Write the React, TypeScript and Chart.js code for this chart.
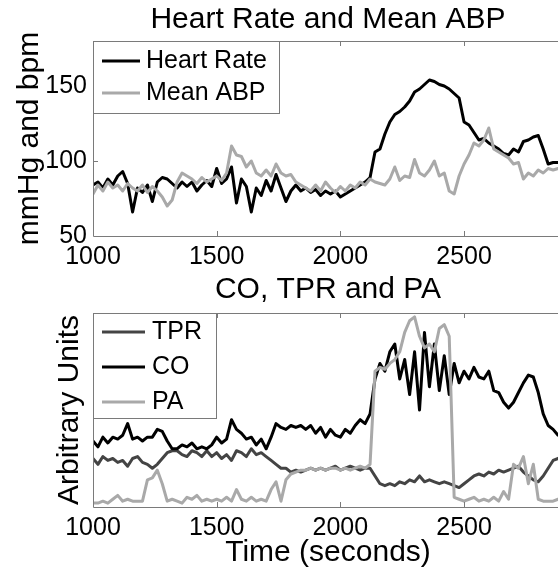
import React, { useEffect, useRef } from "react";
import { Chart, registerables } from "chart.js";

Chart.register(...registerables);

// ---------- data (sampled every 20 s from 1000 s) ----------
const heartRate = [
  84, 86, 82, 88, 84, 90, 93, 85, 66, 82,
  79, 84, 73, 86, 89, 88, 85, 82, 86, 83,
  86, 80, 84, 87, 83, 95, 85, 88, 96, 72,
  88, 83, 66, 82, 77, 87, 80, 91, 82, 73,
  80, 84, 80, 82, 79, 81, 77, 80, 78, 80,
  76, 78, 80, 82, 84, 86, 89, 106, 108, 118,
  126, 131, 133, 136, 140, 146, 148, 151, 154, 153,
  151, 150, 148, 145, 142, 126, 124, 119, 114, 115,
  112, 110, 108, 105, 104, 108, 106, 113, 114, 116,
  117, 108, 98, 99, 99, 99,
];
const meanABP = [
  78, 84, 80, 86, 82, 84, 80, 85, 82, 80,
  84, 79, 83, 80, 76, 70, 74, 86, 92, 90,
  88, 85, 89, 86, 88, 90, 87, 92, 110, 104,
  103, 96, 100, 92, 90, 94, 90, 98, 92, 90,
  91, 86, 84, 82, 80, 84, 80, 86, 82, 79,
  83, 80, 84, 82, 86, 84, 88, 86, 85, 84,
  88, 96, 87, 90, 89, 101, 92, 90, 94, 100,
  90, 92, 80, 78, 90, 98, 104, 112, 110, 114,
  122, 108, 106, 104, 102, 98, 99, 88, 92, 90,
  94, 92, 95, 94, 95, 95,
];
const tpr = [
  25, 22, 26, 24, 25, 23, 24, 21, 25, 26,
  23, 22, 20, 22, 25, 28, 29, 29, 27, 26,
  29, 28, 26, 29, 26, 28, 25, 27, 24, 29,
  28, 26, 30, 27, 28, 26, 24, 22, 20, 20,
  18, 19, 18, 19, 20, 19, 20, 19, 20, 21,
  19, 20, 21, 20, 19, 20, 20, 16, 12, 11,
  12, 11, 13, 12, 14, 13, 16, 13, 14, 13,
  12, 13, 12, 11, 10, 12, 14, 16, 17, 16,
  18, 17, 19, 18, 19, 20, 21, 18, 16, 14,
  13, 16, 20, 24, 25, 26,
];
const co = [
  34, 31, 36, 33, 36, 35, 37, 43, 35, 36,
  34, 36, 36, 40, 39, 34, 30, 30, 32, 31,
  33, 30, 31, 30, 32, 36, 33, 35, 45, 40,
  38, 35, 36, 32, 35, 30, 36, 43, 41, 40,
  42, 41, 42, 40, 42, 38, 41, 36, 40, 37,
  36, 40, 38, 42, 45, 43, 48, 66, 74, 70,
  80, 84, 66, 76, 58, 80, 50, 90, 62, 84,
  60, 78, 58, 74, 64, 70, 66, 72, 67, 66,
  70, 60, 59, 54, 51, 54, 59, 64, 68, 67,
  59, 48, 42, 40, 37, 36,
];
const pa = [
  2, 2, 3, 2, 4, 6, 3, 4, 3, 3,
  3, 14, 15, 19, 12, 3, 4, 3, 2, 5,
  4, 6, 3, 4, 3, 4, 3, 5, 3, 9,
  4, 3, 5, 3, 4, 3, 9, 13, 3, 14,
  17, 18, 19, 19, 20, 19, 20, 19, 20, 20,
  19, 20, 19, 20, 21, 20, 22, 70, 72, 71,
  74, 76, 80, 90, 96, 98, 88, 82, 84, 80,
  92, 94, 88, 5, 4, 3, 4, 5, 3, 4,
  3, 5, 3, 8, 4, 22, 20, 26, 12, 22,
  4, 3, 3, 3, 4, 4,
];

const timeStart = 1000;
const timeStep = 20;
const times = heartRate.map((_, i) => timeStart + i * timeStep);

const xTickValues = [1000, 1500, 2000, 2500];
const hrTickValues = [50, 100, 150];

const FONT = '"Liberation Sans", Arial, Helvetica, sans-serif';
Chart.defaults.font.family = FONT;
Chart.defaults.color = "#000";

const pts = (arr: number[]) => arr.map((v, i) => ({ x: times[i], y: v }));

const framePlugin = {
  id: "frame",
  afterDraw(chart: any, _args: any, opts: any) {
    const { ctx, chartArea: a, scales } = chart;
    ctx.save();
    ctx.strokeStyle = opts.color || "#777";
    ctx.lineWidth = 1;
    const L = 5;
    ctx.beginPath();
    ctx.rect(Math.round(a.left) + 0.5, Math.round(a.top) + 0.5, Math.round(a.right - a.left), Math.round(a.bottom - a.top));
    const xs = scales.x;
    xs.ticks.forEach((t: any) => {
      const px = Math.round(xs.getPixelForValue(t.value)) + 0.5;
      if (px <= a.left + 2) return;
      ctx.moveTo(px, a.top);
      ctx.lineTo(px, a.top + L);
      ctx.moveTo(px, a.bottom);
      ctx.lineTo(px, a.bottom - L);
    });
    if (opts.yTicks) {
      const ys = scales.y;
      ys.ticks.forEach((t: any) => {
        const py = Math.round(ys.getPixelForValue(t.value)) + 0.5;
        if (py >= a.bottom - 2 || py <= a.top + 2) return;
        ctx.moveTo(a.left, py);
        ctx.lineTo(a.left + L, py);
      });
    }
    ctx.stroke();
    ctx.restore();
  },
};

const boxLegendPlugin = {
  id: "boxLegend",
  afterDraw(chart: any, _args: any, o: any) {
    const { ctx, chartArea: a } = chart;
    ctx.save();
    const x0 = Math.round(a.left) + 0.5;
    const y0 = Math.round(a.top) + 0.5;
    ctx.fillStyle = "#fff";
    ctx.fillRect(x0, y0, o.width, o.height);
    ctx.strokeStyle = o.borderColor;
    ctx.lineWidth = 1;
    ctx.strokeRect(x0, y0, o.width, o.height);
    ctx.font = `${o.fontSize}px ${FONT}`;
    ctx.textBaseline = "middle";
    ctx.textAlign = "left";
    o.items.forEach((di: number, k: number) => {
      const ds = chart.data.datasets[di];
      const y = a.top + o.firstRow + k * o.rowGap;
      ctx.strokeStyle = ds.borderColor;
      ctx.lineWidth = ds.borderWidth;
      ctx.beginPath();
      ctx.moveTo(a.left + o.sampleFrom, y);
      ctx.lineTo(a.left + o.sampleTo, y);
      ctx.stroke();
      ctx.fillStyle = "#000";
      ctx.fillText(ds.label, a.left + o.textX, y);
    });
    ctx.restore();
  },
};

function xScale(height: number, withTitle: boolean) {
  return {
    type: "linear",
    min: 1000,
    max: 2900,
    grid: { display: false, drawTicks: false },
    border: { display: false },
    afterBuildTicks: (s: any) => {
      s.ticks = xTickValues.map((v) => ({ value: v }));
    },
    ticks: {
      padding: 6,
      color: "#000",
      font: { size: 25, family: FONT },
      callback: (v: any) => String(v),
      maxRotation: 0,
      autoSkip: false,
    },
    title: withTitle
      ? { display: true, text: "Time (seconds)", color: "#000", font: { size: 30, family: FONT }, padding: { top: 0, bottom: 1 } }
      : { display: false },
    afterFit: (s: any) => {
      s.height = height;
    },
  };
}

const lineStyle = { tension: 0, borderJoinStyle: "round", borderCapStyle: "round" };

function makeTop(canvas: HTMLCanvasElement) {
  return new Chart(canvas, {
    type: "line",
    data: {
      datasets: [
        { label: "Heart Rate", data: pts(heartRate), borderColor: "#000000", borderWidth: 3, order: 2 },
        { label: "Mean ABP", data: pts(meanABP), borderColor: "#a9a9a9", borderWidth: 3, order: 1 },
      ],
    },
    options: {
      animation: false,
      responsive: false,
      devicePixelRatio: 1,
      layout: { padding: { left: 0, right: 12, top: 0, bottom: 0 } },
      elements: { point: { radius: 0 }, line: lineStyle as any },
      plugins: {
        legend: { display: false },
        tooltip: { enabled: false },
        title: {
          display: true,
          text: "Heart Rate and Mean ABP",
          fullSize: false,
          color: "#000",
          font: { size: 30, family: FONT, weight: "normal" },
          padding: { top: 2, bottom: 3 },
        },
        frame: { color: "#7a7a7a", yTicks: true },
        boxLegend: {
          items: [0, 1],
          width: 186,
          height: 72,
          firstRow: 20,
          rowGap: 32,
          sampleFrom: 9,
          sampleTo: 47,
          textX: 53,
          fontSize: 25,
          borderColor: "#7a7a7a",
        },
      } as any,
      scales: {
        x: xScale(34, false) as any,
        y: {
          min: 50,
          max: 180,
          grid: { display: false, drawTicks: false },
          border: { display: false },
          afterBuildTicks: (s: any) => {
            s.ticks = hrTickValues.map((v) => ({ value: v }));
          },
          ticks: { padding: 6, color: "#000", font: { size: 25, family: FONT }, callback: (v: any) => String(v) },
          title: { display: true, text: "mmHg and bpm", color: "#000", font: { size: 30, family: FONT }, padding: { top: 12, bottom: 0 } },
          afterFit: (s: any) => {
            s.width = 93;
          },
        } as any,
      },
    },
    plugins: [framePlugin, boxLegendPlugin],
  });
}

function makeBottom(canvas: HTMLCanvasElement) {
  return new Chart(canvas, {
    type: "line",
    data: {
      datasets: [
        { label: "TPR", data: pts(tpr), borderColor: "#444444", borderWidth: 3, order: 3 },
        { label: "CO", data: pts(co), borderColor: "#000000", borderWidth: 3, order: 2 },
        { label: "PA", data: pts(pa), borderColor: "#a9a9a9", borderWidth: 3, order: 1 },
      ],
    },
    options: {
      animation: false,
      responsive: false,
      devicePixelRatio: 1,
      layout: { padding: { left: 0, right: 12, top: 0, bottom: 0 } },
      elements: { point: { radius: 0 }, line: lineStyle as any },
      plugins: {
        legend: { display: false },
        tooltip: { enabled: false },
        title: {
          display: true,
          text: "CO, TPR and PA",
          fullSize: false,
          color: "#000",
          font: { size: 30, family: FONT, weight: "normal" },
          padding: { top: 2, bottom: 5 },
        },
        frame: { color: "#7a7a7a", yTicks: false },
        boxLegend: {
          items: [0, 1, 2],
          width: 123,
          height: 105,
          firstRow: 19,
          rowGap: 35,
          sampleFrom: 9,
          sampleTo: 52,
          textX: 59,
          fontSize: 25,
          borderColor: "#7a7a7a",
        },
      } as any,
      scales: {
        x: xScale(65, true) as any,
        y: {
          min: 0,
          max: 100,
          grid: { display: false, drawTicks: false },
          border: { display: false },
          ticks: { display: false },
          title: { display: true, text: "Arbitrary Units", color: "#000", font: { size: 30, family: FONT }, padding: { top: 52, bottom: 0 } },
          afterFit: (s: any) => {
            s.width = 93;
          },
        } as any,
      },
    },
    plugins: [framePlugin, boxLegendPlugin],
  });
}

export default function App() {
  const topRef = useRef<HTMLCanvasElement>(null);
  const botRef = useRef<HTMLCanvasElement>(null);
  useEffect(() => {
    const c1 = makeTop(topRef.current!);
    const c2 = makeBottom(botRef.current!);
    return () => {
      c1.destroy();
      c2.destroy();
    };
  }, []);
  return (
    <div
      style={{
        position: "fixed",
        left: 0,
        top: 0,
        width: 558,
        height: 572,
        overflow: "hidden",
        background: "#fff",
      }}
    >
      <canvas
        ref={topRef}
        width={575}
        height={270}
        style={{ position: "absolute", left: 0, top: 0, width: 575, height: 270 }}
      />
      <canvas
        ref={botRef}
        width={575}
        height={302}
        style={{ position: "absolute", left: 0, top: 270, width: 575, height: 302 }}
      />
    </div>
  );
}
